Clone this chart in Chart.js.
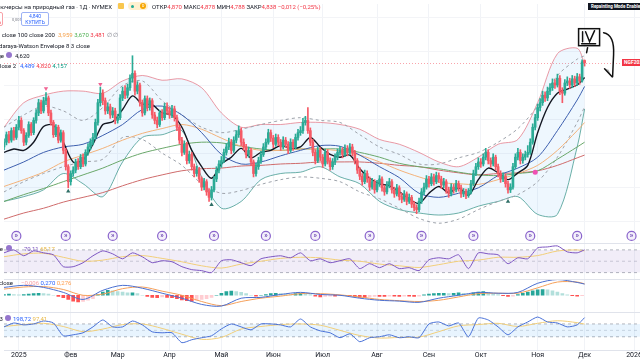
<!DOCTYPE html>
<html lang="ru">
<head>
<meta charset="utf-8">
<title>Фьючерсы на природный газ · 1Д · NYMEX</title>
<script src="https://cdn.jsdelivr.net/npm/chart.js@4.4.1/dist/chart.umd.min.js"></script>
<style>
  html, body { margin: 0; padding: 0; background: #fff; }
  #wrap { position: relative; width: 640px; height: 360px; overflow: hidden; font-family: Roboto, 'Noto Sans', sans-serif; color: #131722; }
  #chart { position: absolute; left: 0; top: 0; }
  .lg { position: absolute; white-space: nowrap; font-size: 6px; line-height: 7px; color: #131722; }
  .ico { position: absolute; border-radius: 50%; }
  .btn { position: absolute; height: 12px; border-radius: 2px; background: #fff; text-align: center; font-size: 5px; line-height: 6px; }
  #repaint { position: absolute; left: 588px; top: 3px; background: #131722; color: #fff; font-size: 4.5px; line-height: 7px; padding: 0 3px; font-weight: bold; white-space: nowrap; }
  #lastLabel { position: absolute; left: 622px; height: 7px; background: #f23645; color: #fff; font-size: 5px; line-height: 7px; padding: 0 2px; font-weight: bold; white-space: nowrap; }
</style>
</head>
<body>
<div id="wrap">
  <canvas id="chart" width="680" height="360"></canvas>

  <!-- header -->
  <div class="lg" style="right:528px; top:3px;">Фьючерсы на природный газ · 1Д · NYMEX</div>
  <div style="position:absolute; left:118px; top:3px; width:6px; height:6px; background:#f9c74f; border-radius:1px;"></div>
  <div style="position:absolute; left:128px; top:2px; width:20px; height:8px; background:#fff1d0; border-radius:4px;"></div>
  <div class="ico" style="left:131px; top:4.5px; width:3px; height:3px; background:#22ab94;"></div>
  <div class="ico" style="left:140px; top:3px; width:6px; height:6px; background:#f7a600; color:#fff; font-size:4px; line-height:6px; text-align:center;">D</div>
  <div class="lg" style="left:152px; top:3px;">ОТКР<span style="color:#f23645">4,870</span> МАКС<span style="color:#f23645">4,878</span> МИН<span style="color:#f23645">4,788</span> ЗАКР<span style="color:#f23645">4,838</span> <span style="color:#f23645">−0,012 (−0,25%)</span></div>

  <div class="btn" style="left:-24px; top:12px; width:25px; border:1px solid #f7a1a8; color:#f23645;">4,837<br>ПРОДАТЬ</div>
  <div class="lg" style="left:12px; top:16px; font-size:4px; color:#787b86;">0,001</div>
  <div class="btn" style="left:21px; top:12px; width:26px; border:1px solid #9db2f5; color:#2962ff;">4,840<br>КУПИТЬ</div>

  <div class="lg" style="right:585px; top:31px;">MA 50 close 100 close 200</div>
  <div class="lg" style="left:58px; top:31px;"><span style="color:#f5a04a">3,959</span> <span style="color:#4caf50">3,670</span> <span style="color:#f23645">3,481</span> <span style="color:#787b86">∅ ∅</span></div>
  <div class="lg" style="right:550px; top:42px;">Nadaraya-Watson Envelope 8 3 close</div>
  <div class="lg" style="right:636px; top:52px;">Moving Average</div>
  <div class="ico" style="left:6px; top:52px; width:6px; height:6px; background:#9575cd;"></div>
  <div class="lg" style="left:15px; top:52px;">4,620</div>
  <div class="lg" style="right:624px; top:62px;">BB 20 close 2</div>
  <div class="lg" style="left:20px; top:62px;"><span style="color:#2962ff">4,489</span> <span style="color:#f23645">4,820</span> <span style="color:#089981">4,157</span></div>

  <!-- sub panes -->
  <div class="lg" style="right:637px; top:245px;">RSI 14 close</div>
  <div class="ico" style="left:6px; top:245px; width:6px; height:6px; background:#9575cd;"></div>
  <div class="lg" style="left:24px; top:245px;"><span style="color:#7e57c2">70,11</span> <span style="color:#e9b949">68,17</span></div>
  <div class="lg" style="right:627px; top:279px;">MACD 12 26 close</div>
  <div class="lg" style="left:21px; top:279px;"><span style="color:#f7a1a8">−0,006</span> <span style="color:#2962ff">0,270</span> <span style="color:#ff9f50">0,276</span></div>
  <div class="lg" style="right:637px; top:315px;">CCI 20 hlc3</div>
  <div class="ico" style="left:5px; top:315px; width:6px; height:6px; background:#9575cd;"></div>
  <div class="lg" style="left:13px; top:315px;"><span style="color:#2962ff">198,72</span> <span style="color:#e9b949">97,41</span></div>

  <div id="repaint">Repainting Mode Enabled</div>
  <div id="lastLabel">NGF2026</div>
</div>

<script>
// month ticks (trading-day index of first bar of each month)
const monthTicks = [0, 21, 40, 61, 82, 103, 123, 145, 166, 187, 210, 229, 249];
const monthLabels = ['2025', 'Фев', 'Мар', 'Апр', 'Май', 'Июн', 'Июл', 'Авг', 'Сен', 'Окт', 'Ноя', 'Дек', '2026'];

// contract roll markers (trading-day index)
const rollIdx = [-1, 19, 38, 58, 79, 100, 120, 142, 163, 184, 207, 226, 248];

// daily candles, first bar = index -6 (late Dec 2024), last bar = 229 (1 Dec 2025)
const firstBar = -6;
const opens = [3.60, 3.67, 3.78, 3.70, 3.84, 3.74,
  3.89, 3.99, 3.84, 3.67, 3.77, 3.93, 3.81, 3.99, 4.10, 4.25,
  4.13, 4.28, 4.32, 4.10, 3.96, 3.78, 3.89, 3.70, 3.81, 3.55,
  3.31, 3.09, 3.21, 3.26, 3.38, 3.31, 3.45, 3.35, 3.52, 3.60,
  3.67, 3.74, 3.96, 4.25, 4.39, 4.28, 4.13, 4.19, 4.07, 4.13,
  3.99, 4.03, 4.32, 4.42, 4.36, 4.47, 4.61, 4.68, 4.42, 4.51,
  4.25, 4.10, 4.31, 4.18, 4.28, 4.07, 3.99, 3.93, 4.10, 4.03,
  4.19, 4.13, 4.07, 4.16, 4.03, 3.89, 3.70, 3.52, 3.64, 3.40,
  3.49, 3.31, 3.21, 3.26, 3.13, 3.01, 3.09, 2.94, 2.86, 2.97,
  3.13, 3.26, 3.35, 3.40, 3.52, 3.60, 3.67, 3.55, 3.70, 3.78,
  3.84, 3.67, 3.60, 3.49, 3.55, 3.38, 3.21, 3.31, 3.40, 3.49,
  3.60, 3.67, 3.81, 3.73, 3.64, 3.74, 3.67, 3.60, 3.70, 3.64,
  3.55, 3.67, 3.60, 3.74, 3.81, 3.84, 3.96, 3.99, 3.84, 3.67,
  3.52, 3.40, 3.55, 3.45, 3.35, 3.52, 3.40, 3.31, 3.38, 3.45,
  3.52, 3.55, 3.49, 3.58, 3.52, 3.60, 3.52, 3.40, 3.26, 3.17,
  3.09, 3.21, 3.13, 3.01, 3.09, 2.97, 3.06, 3.13, 3.00, 2.94,
  3.04, 3.09, 2.97, 2.91, 3.00, 2.87, 2.83, 2.91, 2.80, 2.86,
  2.76, 2.71, 2.68, 2.80, 2.94, 3.01, 3.13, 3.06, 3.16, 3.09,
  3.18, 3.13, 3.04, 3.09, 2.97, 2.91, 3.01, 2.97, 3.06, 3.00,
  2.91, 2.94, 2.89, 2.94, 3.06, 3.21, 3.31, 3.38, 3.35, 3.45,
  3.52, 3.40, 3.35, 3.45, 3.31, 3.21, 3.13, 3.17, 3.06, 2.97,
  3.01, 3.31, 3.45, 3.52, 3.40, 3.45, 3.49, 3.52, 3.67, 3.89,
  4.03, 4.18, 4.25, 4.36, 4.32, 4.42, 4.47, 4.54, 4.51, 4.61,
  4.42, 4.39, 4.54, 4.57, 4.51, 4.60, 4.54, 4.63, 4.57, 4.870];
const highs = [3.72, 3.82, 3.83, 3.88, 3.89, 3.93,
  4.05, 4.03, 3.87, 3.81, 3.97, 3.96, 4.03, 4.15, 4.30, 4.29,
  4.33, 4.40, 4.35, 4.14, 3.99, 3.93, 3.92, 3.85, 3.84, 3.58,
  3.34, 3.25, 3.31, 3.42, 3.43, 3.49, 3.50, 3.56, 3.65, 3.72,
  3.80, 4.01, 4.30, 4.48, 4.44, 4.32, 4.25, 4.23, 4.18, 4.17,
  4.08, 4.37, 4.48, 4.50, 4.52, 4.66, 4.94, 4.72, 4.56, 4.54,
  4.29, 4.35, 4.35, 4.32, 4.31, 4.11, 4.04, 4.14, 4.15, 4.24,
  4.25, 4.18, 4.21, 4.20, 4.07, 3.92, 3.74, 3.69, 3.67, 3.54,
  3.52, 3.35, 3.32, 3.30, 3.16, 3.14, 3.12, 2.99, 3.02, 3.17,
  3.31, 3.40, 3.46, 3.57, 3.65, 3.73, 3.71, 3.75, 3.84, 3.91,
  3.88, 3.72, 3.64, 3.60, 3.58, 3.41, 3.36, 3.45, 3.54, 3.65,
  3.72, 3.86, 3.85, 3.77, 3.79, 3.78, 3.71, 3.75, 3.74, 3.68,
  3.72, 3.71, 3.79, 3.86, 3.90, 4.02, 4.05, 4.18, 3.88, 3.71,
  3.56, 3.60, 3.59, 3.49, 3.57, 3.56, 3.44, 3.43, 3.50, 3.57,
  3.61, 3.59, 3.63, 3.62, 3.65, 3.64, 3.55, 3.43, 3.30, 3.21,
  3.26, 3.25, 3.16, 3.14, 3.12, 3.11, 3.18, 3.16, 3.04, 3.09,
  3.14, 3.12, 3.01, 3.05, 3.03, 2.92, 2.96, 2.94, 2.91, 2.89,
  2.80, 2.75, 2.85, 2.99, 3.07, 3.18, 3.17, 3.21, 3.20, 3.23,
  3.22, 3.17, 3.14, 3.12, 3.01, 3.06, 3.05, 3.11, 3.10, 3.04,
  2.99, 2.98, 2.99, 3.11, 3.26, 3.36, 3.44, 3.43, 3.50, 3.58,
  3.56, 3.44, 3.50, 3.48, 3.35, 3.25, 3.22, 3.20, 3.10, 3.06,
  3.36, 3.50, 3.58, 3.56, 3.50, 3.54, 3.62, 3.72, 3.94, 4.08,
  4.23, 4.31, 4.42, 4.41, 4.48, 4.53, 4.60, 4.59, 4.67, 4.65,
  4.47, 4.59, 4.63, 4.61, 4.65, 4.64, 4.68, 4.67, 4.88, 4.878];
const lows = [3.56, 3.63, 3.66, 3.67, 3.70, 3.71,
  3.85, 3.80, 3.62, 3.63, 3.74, 3.77, 3.78, 3.95, 4.06, 4.09,
  4.10, 4.22, 4.06, 3.92, 3.74, 3.75, 3.66, 3.67, 3.50, 3.26,
  3.00, 3.04, 3.17, 3.22, 3.27, 3.28, 3.31, 3.32, 3.48, 3.56,
  3.63, 3.71, 3.92, 4.20, 4.22, 4.08, 4.09, 4.02, 4.03, 3.94,
  3.95, 4.00, 4.28, 4.31, 4.32, 4.43, 4.55, 4.36, 4.38, 4.20,
  4.05, 4.07, 4.13, 4.14, 4.02, 3.94, 3.88, 3.90, 3.99, 4.00,
  4.08, 4.02, 4.03, 3.98, 3.84, 3.65, 3.47, 3.49, 3.35, 3.36,
  3.26, 3.16, 3.17, 3.08, 2.96, 2.97, 2.89, 2.80, 2.82, 2.94,
  3.09, 3.22, 3.30, 3.37, 3.48, 3.56, 3.50, 3.52, 3.66, 3.74,
  3.62, 3.55, 3.44, 3.45, 3.33, 3.16, 3.17, 3.27, 3.36, 3.46,
  3.56, 3.64, 3.68, 3.59, 3.61, 3.62, 3.55, 3.57, 3.59, 3.50,
  3.52, 3.55, 3.57, 3.70, 3.77, 3.80, 3.92, 3.80, 3.62, 3.47,
  3.35, 3.37, 3.40, 3.30, 3.32, 3.35, 3.26, 3.27, 3.34, 3.41,
  3.48, 3.44, 3.46, 3.47, 3.49, 3.47, 3.35, 3.21, 3.12, 3.04,
  3.06, 3.08, 2.96, 2.98, 2.92, 2.94, 3.02, 2.95, 2.89, 2.91,
  3.00, 2.92, 2.86, 2.88, 2.82, 2.78, 2.80, 2.75, 2.77, 2.71,
  2.66, 2.62, 2.65, 2.77, 2.90, 2.98, 3.01, 3.03, 3.04, 3.06,
  3.08, 2.99, 3.00, 2.92, 2.86, 2.88, 2.92, 2.94, 2.95, 2.86,
  2.87, 2.84, 2.86, 2.91, 3.03, 3.18, 3.27, 3.30, 3.32, 3.41,
  3.35, 3.30, 3.32, 3.26, 3.16, 3.08, 3.09, 3.01, 2.92, 2.93,
  2.98, 3.28, 3.41, 3.35, 3.36, 3.41, 3.45, 3.49, 3.64, 3.85,
  3.99, 4.13, 4.21, 4.27, 4.28, 4.37, 4.43, 4.46, 4.48, 4.37,
  4.25, 4.36, 4.50, 4.46, 4.47, 4.49, 4.50, 4.52, 4.55, 4.788];
const closes = [3.67, 3.78, 3.70, 3.84, 3.74, 3.89,
  3.99, 3.84, 3.67, 3.77, 3.93, 3.81, 3.99, 4.10, 4.25, 4.13,
  4.28, 4.32, 4.10, 3.96, 3.78, 3.89, 3.70, 3.81, 3.55, 3.31,
  3.09, 3.21, 3.26, 3.38, 3.31, 3.45, 3.35, 3.52, 3.60, 3.67,
  3.74, 3.96, 4.25, 4.39, 4.28, 4.13, 4.19, 4.07, 4.13, 3.99,
  4.03, 4.32, 4.42, 4.36, 4.47, 4.61, 4.68, 4.42, 4.51, 4.25,
  4.10, 4.31, 4.18, 4.28, 4.07, 3.99, 3.93, 4.10, 4.03, 4.19,
  4.13, 4.07, 4.16, 4.03, 3.89, 3.70, 3.52, 3.64, 3.40, 3.49,
  3.31, 3.21, 3.26, 3.13, 3.01, 3.09, 2.94, 2.86, 2.97, 3.13,
  3.26, 3.35, 3.40, 3.52, 3.60, 3.67, 3.55, 3.70, 3.78, 3.84,
  3.67, 3.60, 3.49, 3.55, 3.38, 3.21, 3.31, 3.40, 3.49, 3.60,
  3.67, 3.81, 3.73, 3.64, 3.74, 3.67, 3.60, 3.70, 3.64, 3.55,
  3.67, 3.60, 3.74, 3.81, 3.84, 3.96, 3.99, 3.84, 3.67, 3.52,
  3.40, 3.55, 3.45, 3.35, 3.52, 3.40, 3.31, 3.38, 3.45, 3.52,
  3.55, 3.49, 3.58, 3.52, 3.60, 3.52, 3.40, 3.26, 3.17, 3.09,
  3.21, 3.13, 3.01, 3.09, 2.97, 3.06, 3.13, 3.00, 2.94, 3.04,
  3.09, 2.97, 2.91, 3.00, 2.87, 2.83, 2.91, 2.80, 2.86, 2.76,
  2.71, 2.68, 2.80, 2.94, 3.01, 3.13, 3.06, 3.16, 3.09, 3.18,
  3.13, 3.04, 3.09, 2.97, 2.91, 3.01, 2.97, 3.06, 3.00, 2.91,
  2.94, 2.89, 2.94, 3.06, 3.21, 3.31, 3.38, 3.35, 3.45, 3.52,
  3.40, 3.35, 3.45, 3.31, 3.21, 3.13, 3.17, 3.06, 2.97, 3.01,
  3.31, 3.45, 3.52, 3.40, 3.45, 3.49, 3.52, 3.67, 3.89, 4.03,
  4.18, 4.25, 4.36, 4.32, 4.42, 4.47, 4.54, 4.51, 4.61, 4.42,
  4.39, 4.54, 4.57, 4.51, 4.60, 4.54, 4.63, 4.57, 4.85, 4.838];
const lastBar = firstBar + closes.length - 1;

// overlays read every 8 bars (coarse) and every 4 bars (fine), last point at lastBar
const sma50 = [3.02, 3.12, 3.23, 3.38, 3.48, 3.58, 3.70, 3.80, 3.87, 3.93, 3.86, 3.73, 3.61, 3.55, 3.55, 3.57,
  3.57, 3.54, 3.48, 3.38, 3.26, 3.16, 3.08, 3.06, 3.05, 3.12, 3.21, 3.33, 3.55, 3.84, 3.959];
const sma100 = [2.80, 2.90, 2.99, 3.09, 3.19, 3.29, 3.41, 3.51, 3.58, 3.64, 3.67, 3.66, 3.61, 3.57, 3.55, 3.57,
  3.57, 3.57, 3.52, 3.45, 3.36, 3.31, 3.28, 3.23, 3.19, 3.18, 3.21, 3.25, 3.42, 3.60, 3.670];
const sma200 = [2.54, 2.63, 2.70, 2.79, 2.86, 2.93, 3.03, 3.12, 3.19, 3.25, 3.28, 3.29, 3.32, 3.33, 3.35, 3.36,
  3.38, 3.38, 3.38, 3.36, 3.33, 3.31, 3.26, 3.22, 3.19, 3.21, 3.22, 3.25, 3.33, 3.44, 3.481];
const bbBasis = [3.26, 3.38, 3.52, 3.60, 3.64, 3.77, 3.93, 4.15, 4.20, 4.07, 3.81, 3.49, 3.35, 3.38, 3.47, 3.55,
  3.62, 3.61, 3.48, 3.31, 3.15, 2.92, 2.86, 2.92, 3.00, 3.18, 3.29, 3.45, 3.84, 4.29, 4.489];
const bbUpper = [3.89, 4.25, 4.36, 4.42, 4.42, 4.39, 4.57, 4.65, 4.58, 4.60, 4.47, 4.10, 3.89, 3.93, 3.93, 3.96,
  3.96, 3.93, 3.86, 3.71, 3.64, 3.52, 3.38, 3.31, 3.45, 3.64, 3.71, 4.25, 4.97, 5.05, 4.820];
const bbLower = [2.80, 2.87, 2.97, 3.21, 3.06, 2.87, 3.38, 3.74, 3.78, 3.84, 3.16, 2.70, 2.80, 3.12, 3.21, 3.23,
  3.31, 3.16, 3.06, 2.80, 2.68, 2.63, 2.60, 2.63, 2.73, 2.80, 2.87, 2.61, 2.61, 3.60, 4.157];
const nwUpper = [3.89, 4.07, 4.20, 4.13, 3.99, 4.18, 4.50, 4.57, 4.28, 4.07, 3.89, 3.81, 3.86, 3.93, 3.99, 4.03,
  3.99, 3.96, 3.78, 3.60, 3.49, 3.35, 3.35, 3.44, 3.52, 3.67, 3.87, 4.20, 4.65, 4.89, 4.94];
const nwLower = [2.94, 3.09, 3.21, 3.31, 3.38, 3.42, 3.74, 3.71, 3.51, 3.33, 3.06, 2.92, 2.96, 3.05, 3.12, 3.16,
  3.14, 3.09, 2.94, 2.84, 2.70, 2.55, 2.48, 2.54, 2.68, 2.80, 2.90, 3.09, 3.45, 3.96, 4.19];
const fastMa = [3.52, 3.57, 3.55, 3.67, 3.90, 3.92, 3.67, 3.38, 3.41, 3.64,
  3.93, 3.97, 4.15, 4.35, 4.23, 4.22, 4.10, 4.07, 3.89, 3.55,
  3.31, 3.14, 3.35, 3.45, 3.58, 3.44, 3.52, 3.55, 3.62, 3.58,
  3.60, 3.74, 3.60, 3.49, 3.45, 3.48, 3.28, 3.14, 3.06, 3.03,
  2.94, 2.84, 2.77, 2.92, 3.02, 2.93, 3.00, 2.89, 3.12, 3.29,
  3.22, 3.12, 3.22, 3.33, 3.81, 4.18, 4.39, 4.45, 4.51, 4.620];

// markers
const peakIdx = [11, 33];
const peakVal = [4.46, 4.52];
const troughIdx = [20, 78, 198];
const troughVal = [2.95, 2.75, 2.80];
const crossIdx = [209];
const crossVal = [3.23];

// RSI pane
const rsi = [64.8, 70.0, 59.6, 68.3, 64.8, 61.3, 40.4, 40.4, 47.4, 59.6,
  68.3, 63.0, 54.3, 64.8, 57.8, 47.4, 50.9, 49.1, 40.4, 35.2,
  33.5, 30.0, 50.9, 52.6, 47.4, 42.2, 54.3, 57.8, 59.6, 56.1,
  64.8, 50.9, 54.3, 47.4, 50.9, 54.3, 37.0, 45.7, 38.7, 45.7,
  37.0, 38.7, 33.5, 52.6, 56.1, 54.3, 61.3, 37.0, 64.8, 63.0,
  61.3, 45.7, 56.1, 54.3, 73.5, 75.2, 77.0, 66.5, 64.8, 70.11];
const rsiMa = [58, 63, 64, 57, 50, 52, 58, 60, 55, 49, 42, 38, 45, 50, 55, 57,
  56, 52, 50, 45, 42, 39, 44, 50, 52, 57, 57, 60, 68, 70, 68.17];

// MACD pane
const macdLine = [0.19, 0.24, 0.19, 0.07, -0.10, 0.12, 0.24, 0.17, 0.05, -0.07, -0.22, -0.26, -0.07, -0.05, 0.02, 0.07,
  0.02, 0.00, -0.07, -0.12, -0.14, -0.17, -0.07, 0.00, 0.07, 0.05, 0.07, 0.29, 0.38, 0.31, 0.270];
const macdSignal = [0.15, 0.20, 0.21, 0.14, 0.00, 0.03, 0.16, 0.20, 0.10, 0.00, -0.15, -0.25, -0.15, -0.07, -0.02, 0.04,
  0.04, 0.01, -0.04, -0.10, -0.13, -0.15, -0.12, -0.04, 0.04, 0.05, 0.05, 0.18, 0.32, 0.32, 0.276];
// histogram read every 2 bars
const macdHist = [0.02, 0.03, 0.02, 0.01, 0.02, 0.03, 0.04,
  0.05, 0.04, 0.03, 0.00,
  -0.03, -0.06, -0.10, -0.14, -0.16, -0.15, -0.12, -0.08,
  0.02, 0.08, 0.12, 0.11, 0.09, 0.08,
  0.06, 0.06, 0.04,
  0.00, -0.03, -0.05, -0.06, -0.04, -0.05, -0.06,
  -0.08, -0.11, -0.13, -0.14, -0.12, -0.10, -0.08, -0.05, 0.00,
  0.05, 0.09, 0.10, 0.09, 0.07, 0.04,
  0.00, -0.02, 0.00,
  0.02, 0.04, 0.05, 0.04, 0.03, 0.02, 0.04, 0.05,
  0.04, 0.02, -0.02, -0.04, -0.03, -0.02, -0.02, -0.01,
  0.00, -0.01, -0.03, -0.05, -0.05, -0.04, -0.03, -0.03,
  -0.03, -0.02, -0.02, -0.03, -0.02, -0.02, -0.03, -0.02,
  0.01, 0.03, 0.04, 0.05, 0.05, 0.04, 0.05, 0.06, 0.05, 0.03,
  0.06, 0.08, 0.09, 0.07, 0.04, 0.02,
  -0.01, -0.03, -0.02,
  0.02, 0.05, 0.08, 0.11, 0.13, 0.14, 0.13, 0.11, 0.08,
  0.04, 0.01, -0.01, -0.02, -0.01];

// CCI pane
const cci = [54, 115, 85, 100, 146, 115, -85, -69, -38, 54,
  162, 54, 54, 146, 85, -23, -38, -38, -192, -146,
  -115, -85, 23, 100, 54, 8, 100, 100, 85, 54,
  177, 54, -8, -38, -115, -54, -177, -115, -100, -69,
  -115, -100, -115, 100, 131, 69, 115, -100, 192, 162,
  54, -69, 54, 131, 208, 131, 115, 54, 85, 198.72];
const cciMa = [60, 90, 110, 60, -20, 20, 90, 100, 30, -60, -140, -110, 20, 60, 90, 100,
  80, 0, -80, -120, -110, -105, -20, 70, 90, 110, 60, 110, 150, 120, 97.41];

// ---------------------------------------------------------------
const xMin = -6, xMax = 266;   // 2.5 px per bar on a 680 px canvas

function sampleIdx(step) {
  const out = [];
  for (let i = firstBar; i < lastBar; i += step) out.push(i);
  out.push(lastBar);
  return out;
}
const coarseIdx = sampleIdx(8);
const fineIdx = sampleIdx(4);
const histIdx = macdHist.map((v, k) => firstBar + 2 * k);

const pts = (idx, vals) => vals.map((v, k) => ({ x: idx[k], y: v }));
const level = v => [{ x: xMin, y: v }, { x: xMax, y: v }];

const UP = '#2bab96', DOWN = '#f55a66';
const barIdx = closes.map((c, k) => firstBar + k);
const candleColor = ctx => closes[ctx.dataIndex] >= opens[ctx.dataIndex] ? UP : DOWN;

function histColor(ctx) {
  const k = ctx.dataIndex, v = macdHist[k], p = k > 0 ? macdHist[k - 1] : v;
  if (v >= 0) return v >= p ? '#26a69a' : '#b2dfdb';
  return v <= p ? '#ff5252' : '#ffcdd2';
}

function line(label, data, color, axis, extra) {
  return Object.assign({
    type: 'line', label, data, borderColor: color, borderWidth: 1,
    pointRadius: 0, tension: 0.3, yAxisID: axis, fill: false
  }, extra || {});
}

const datasets = [
  // markers
  { type: 'line', label: 'peaks', data: pts(peakIdx, peakVal), showLine: false, yAxisID: 'price',
    pointStyle: 'triangle', rotation: 180, pointRadius: 2.5, backgroundColor: '#f06292', borderWidth: 0, order: 0 },
  { type: 'line', label: 'troughs', data: pts(troughIdx, troughVal), showLine: false, yAxisID: 'price',
    pointStyle: 'triangle', pointRadius: 2.5, backgroundColor: '#2f6f66', borderWidth: 0, order: 0 },
  { type: 'line', label: 'cross', data: pts(crossIdx, crossVal), showLine: false, yAxisID: 'price',
    pointRadius: 2.5, backgroundColor: '#f050b4', borderWidth: 0, order: 0 },

  // candles
  { type: 'bar', label: 'bodies', data: barIdx.map((x, k) => ({ x, y: [opens[k], closes[k]] })),
    yAxisID: 'price', backgroundColor: candleColor, barThickness: 2, minBarLength: 1, grouped: false, order: 1 },
  { type: 'bar', label: 'wicks', data: barIdx.map((x, k) => ({ x, y: [lows[k], highs[k]] })),
    yAxisID: 'price', backgroundColor: candleColor, barThickness: 1, grouped: false, order: 2 },

  // overlays
  line('fast', pts(fineIdx, fastMa), '#131722', 'price', { borderWidth: 1.4, order: 3 }),
  line('basis', pts(coarseIdx, bbBasis), '#3d5fae', 'price', { order: 4 }),
  line('sma50', pts(coarseIdx, sma50), '#f3b27a', 'price', { order: 5 }),
  line('sma100', pts(coarseIdx, sma100), '#6aa86a', 'price', { order: 5 }),
  line('sma200', pts(coarseIdx, sma200), '#cf6b6b', 'price', { order: 5 }),
  line('nwUpper', pts(coarseIdx, nwUpper), '#9ea3ab', 'price', { borderDash: [3, 3], order: 6 }),
  line('nwLower', pts(coarseIdx, nwLower), '#9ea3ab', 'price', { borderDash: [3, 3], order: 6 }),
  line('bbUpper', pts(coarseIdx, bbUpper), 'rgba(228,120,135,0.75)', 'price',
    { fill: '+1', backgroundColor: 'rgba(33,150,243,0.08)', order: 7 }),
  line('bbLower', pts(coarseIdx, bbLower), 'rgba(60,150,135,0.75)', 'price', { order: 7 }),

  // RSI
  line('rsi', pts(fineIdx, rsi), '#7e57c2', 'rsi', { tension: 0.2, order: 3 }),
  line('rsiMa', pts(coarseIdx, rsiMa), '#f2cf7a', 'rsi', { order: 4 }),
  line('rsi70', level(70), '#b2b5be', 'rsi', { borderDash: [3, 3], fill: '+1', backgroundColor: 'rgba(126,87,194,0.11)', tension: 0, order: 8 }),
  line('rsi30', level(30), '#b2b5be', 'rsi', { borderDash: [3, 3], tension: 0, order: 8 }),
  line('rsi50', level(50), 'rgba(178,181,190,0.6)', 'rsi', { borderDash: [3, 3], tension: 0, order: 8 }),

  // MACD
  { type: 'bar', label: 'hist', data: pts(histIdx, macdHist), yAxisID: 'macd',
    backgroundColor: histColor, barThickness: 3, grouped: false, order: 5 },
  line('macd', pts(coarseIdx, macdLine), '#4a6fd0', 'macd', { order: 3 }),
  line('signal', pts(coarseIdx, macdSignal), '#f5a05a', 'macd', { order: 4 }),

  // CCI
  line('cci', pts(fineIdx, cci), '#4a72d8', 'cci', { tension: 0.2, order: 3 }),
  line('cciMa', pts(coarseIdx, cciMa), '#f2cf7a', 'cci', { order: 4 }),
  line('cci100', level(100), '#b2b5be', 'cci', { borderDash: [3, 3], fill: '+1', backgroundColor: 'rgba(33,150,243,0.1)', tension: 0, order: 8 }),
  line('cciM100', level(-100), '#b2b5be', 'cci', { borderDash: [3, 3], tension: 0, order: 8 }),
  line('cci0', level(0), 'rgba(178,181,190,0.5)', 'cci', { borderDash: [3, 3], tension: 0, order: 8 })
];

const paneScale = (weight, min, max) => ({
  type: 'linear', position: 'right', stack: 'panes', stackWeight: weight,
  min, max, display: false
});

const lastClose = closes[closes.length - 1];

const panes = {
  id: 'panes',
  beforeDatasetsDraw(chart) {
    const { ctx, chartArea, scales } = chart;
    const y = Math.round(scales.price.getPixelForValue(lastClose)) + 0.5;
    ctx.save();
    ctx.strokeStyle = 'rgba(242,54,69,0.45)';
    ctx.setLineDash([1, 2]);
    ctx.lineWidth = 1;
    ctx.beginPath(); ctx.moveTo(chartArea.left, y); ctx.lineTo(chartArea.right, y); ctx.stroke();
    ctx.restore();
  },
  afterDatasetsDraw(chart) {
    const { ctx, chartArea, scales } = chart;
    const x = scales.x, price = scales.price;
    ctx.save();
    // pane separators
    ctx.strokeStyle = '#e0e3eb';
    ctx.lineWidth = 1;
    [scales.rsi.top, scales.macd.top, scales.cci.top, scales.cci.bottom].forEach(t => {
      const yy = Math.round(t) + 0.5;
      ctx.beginPath(); ctx.moveTo(chartArea.left, yy); ctx.lineTo(chartArea.right, yy); ctx.stroke();
    });
    // contract roll icons
    const iy = price.bottom - 7;
    ctx.font = 'bold 7px Roboto';
    ctx.textAlign = 'center';
    ctx.textBaseline = 'middle';
    rollIdx.forEach(i => {
      const cx = x.getPixelForValue(i);
      ctx.beginPath(); ctx.arc(cx, iy, 4.5, 0, Math.PI * 2);
      ctx.fillStyle = '#f4f0fb'; ctx.fill();
      ctx.lineWidth = 1.2;
      ctx.strokeStyle = '#8a64cc'; ctx.stroke();
      ctx.fillStyle = '#6a45b0';
      ctx.fillText('»', cx, iy - 0.5);
    });
    ctx.restore();
  },
  afterDraw(chart) {
    // hand drawn note next to the last candle
    const { ctx, scales } = chart;
    const lx = scales.x.getPixelForValue(lastBar);
    const ly = scales.price.getPixelForValue(lastClose);
    ctx.save();
    ctx.strokeStyle = '#111';
    ctx.lineWidth = 1.5;
    ctx.lineCap = 'round';
    ctx.strokeRect(lx - 6, ly - 34, 21, 17);
    ctx.beginPath();
    ctx.moveTo(lx - 2, ly - 31); ctx.lineTo(lx - 2, ly - 21);
    ctx.moveTo(lx + 1, ly - 31); ctx.lineTo(lx + 5, ly - 21); ctx.lineTo(lx + 10, ly - 32);
    ctx.moveTo(lx - 3, ly - 19); ctx.lineTo(lx + 11, ly - 19);
    ctx.moveTo(lx + 3, ly - 15); ctx.lineTo(lx + 2, ly - 10);
    ctx.moveTo(lx + 19, ly - 30);
    ctx.quadraticCurveTo(lx + 30, ly - 28, lx + 29, ly - 8);
    ctx.lineTo(lx + 28, ly + 14);
    ctx.stroke();
    ctx.fillStyle = '#b0b0b0';
    ctx.beginPath();
    ctx.moveTo(lx + 20, ly + 6); ctx.lineTo(lx + 27, ly + 14); ctx.lineTo(lx + 24, ly + 7); ctx.closePath();
    ctx.fill();
    ctx.beginPath();
    ctx.moveTo(lx + 20, ly + 6); ctx.lineTo(lx + 27.5, ly + 14);
    ctx.stroke();
    ctx.restore();
  }
};

Chart.defaults.font.family = 'Roboto';

const chart = new Chart(document.getElementById('chart'), {
  type: 'line',
  data: { datasets },
  options: {
    responsive: false,
    animation: false,
    devicePixelRatio: 1,
    layout: { padding: 0 },
    plugins: { legend: { display: false }, tooltip: { enabled: false } },
    scales: {
      x: {
        type: 'linear', min: xMin, max: xMax, offset: false,
        afterBuildTicks: s => { s.ticks = monthTicks.map(v => ({ value: v })); },
        ticks: {
          autoSkip: false, maxRotation: 0, padding: 1,
          font: { size: 7 }, color: '#131722',
          callback: (v, i) => monthLabels[i]
        },
        grid: { color: '#f1f3f7', drawTicks: false, offset: false },
        border: { display: false }
      },
      price: {
        type: 'linear', position: 'right', stack: 'panes', stackWeight: 242,
        min: 2.19, max: 5.70,
        afterBuildTicks: s => { s.ticks = [2.5, 3, 3.5, 4, 4.5, 5, 5.5].map(v => ({ value: v })); },
        ticks: { display: false },
        grid: { color: '#f3f4f7', drawTicks: false },
        border: { display: false }
      },
      rsi: paneScale(36, 19.6, 82.2),
      macd: paneScale(34, -0.405, 0.405),
      cci: paneScale(38, -300, 285)
    }
  },
  plugins: [panes]
});

// price label on the right edge follows the last close
const lbl = document.getElementById('lastLabel');
lbl.style.top = (chart.scales.price.getPixelForValue(lastClose) - 3.5) + 'px';
</script>
</body>
</html>
